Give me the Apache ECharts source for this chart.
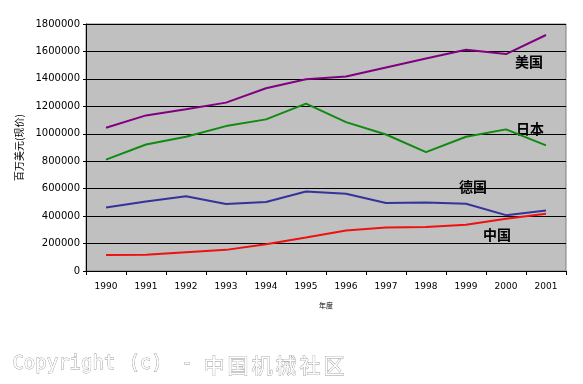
<!DOCTYPE html>
<html><head><meta charset="utf-8">
<script src="https://cdn.jsdelivr.net/npm/echarts@6/dist/echarts.min.js"></script>
<style>html,body{margin:0;padding:0;background:#fff}#c{width:583px;height:384px}</style>
</head><body><div id="c"></div>
<script>
const years = ['1990','1991','1992','1993','1994','1995','1996','1997','1998','1999','2000','2001'];
const usa = [1044000,1134000,1178000,1227000,1332000,1398000,1417000,1483000,1549000,1612000,1581000,1720000];
const japan = [812000,922000,978000,1056000,1105000,1220000,1085000,995000,866000,978000,1032000,915000];
const germany = [463000,507000,544000,488000,503000,580000,563000,495000,500000,490000,407000,441000];
const china = [117000,118000,137000,154000,195000,244000,295000,317000,320000,337000,380000,417000];
const yTicks = {min:0, max:1800000, interval:200000};

const chart = echarts.init(document.getElementById('c'));
const mk = (name, data, color) => ({
  name, type:'line', data, symbol:'none', smooth:false,
  lineStyle:{color, width:2}, itemStyle:{color}
});
const lbl = (text, x, y) => ({
  type:'text', left:x, top:y,
  style:{text, font:'bold 14px "Noto Sans CJK SC"', fill:'#000'}
});
const emb = (text, x, font) => ({
  type:'text', left:x, top:354,
  style:{text, font, fill:'#fff', stroke:'#9a9a9a', lineWidth:0.8,
    shadowColor:'#444', shadowOffsetX:1, shadowOffsetY:1, shadowBlur:0}
});
const cjk = '中国机械社区'.split('').map((ch, i) => emb(ch, 203 + i * 24, '21px "Noto Sans CJK SC"'));
chart.setOption({
  animation:false,
  grid:{left:86, right:17, top:24, bottom:113, show:true, backgroundColor:'#c0c0c0', borderColor:'#808080', borderWidth:1},
  xAxis:{
    type:'category', data:years, boundaryGap:true,
    axisLine:{lineStyle:{color:'#000', width:1}},
    axisTick:{show:true, length:4, lineStyle:{color:'#000'}},
    axisLabel:{color:'#000', fontSize:9, fontFamily:'DejaVu Sans', margin:11},
    name:'年度', nameLocation:'middle', nameGap:31,
    nameTextStyle:{color:'#000', fontSize:7, fontFamily:'Noto Sans CJK SC'}
  },
  yAxis:{
    type:'value', min:yTicks.min, max:yTicks.max, interval:yTicks.interval,
    axisLine:{show:true, lineStyle:{color:'#000', width:1}},
    axisTick:{show:true, length:3, lineStyle:{color:'#000'}},
    splitLine:{lineStyle:{color:'#000', width:1}},
    axisLabel:{color:'#000', fontSize:10, fontFamily:'DejaVu Sans', margin:6, formatter: v => String(v)},
    name:'百万美元(现价)', nameLocation:'middle', nameGap:60, nameRotate:90,
    nameTextStyle:{color:'#000', fontSize:10, fontFamily:'Noto Sans CJK SC'}
  },
  series:[
    mk('美国', usa, '#800080'),
    mk('日本', japan, '#108a10'),
    mk('德国', germany, '#333399'),
    mk('中国', china, '#ee1111')
  ],
  graphic:[
    lbl('美国', 515, 55),
    lbl('日本', 516, 122),
    lbl('德国', 459, 180),
    lbl('中国', 483, 228),
    emb('Copyright', 12, '19px "DejaVu Sans Mono"'),
    emb('(c)', 128, '19px "DejaVu Sans Mono"'),
    emb('-', 181, '19px "DejaVu Sans Mono"'),
    ...cjk
  ]
});
</script></body></html>
